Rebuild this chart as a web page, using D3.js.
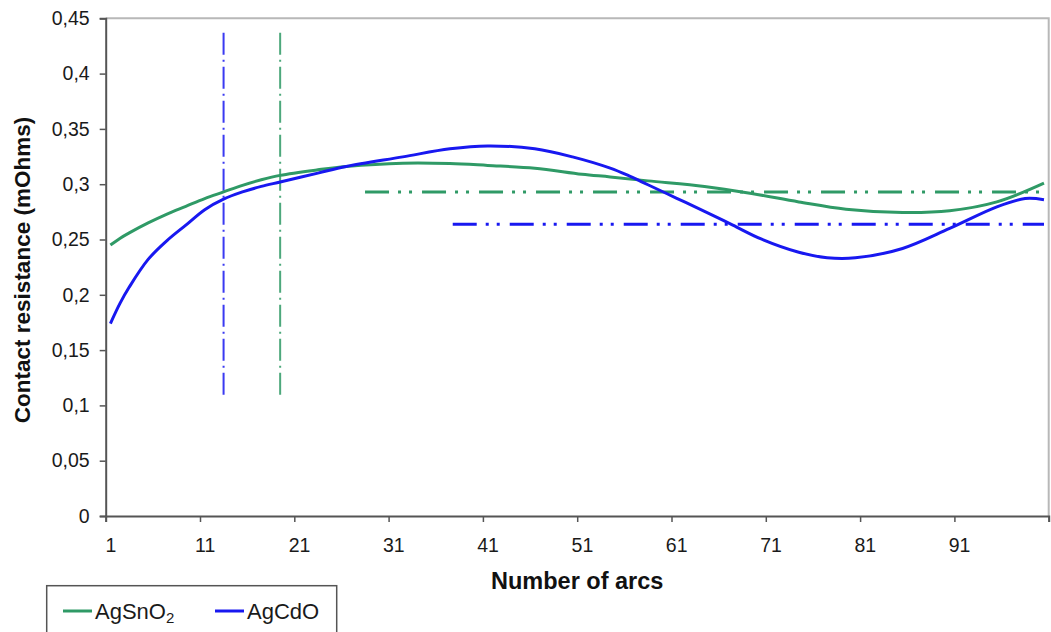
<!DOCTYPE html>
<html>
<head>
<meta charset="utf-8">
<script src="https://cdn.jsdelivr.net/npm/d3@7"></script>
<style>
  html, body { margin: 0; padding: 0; background: #ffffff; }
  svg { display: block; font-family: "Liberation Sans", Arial, sans-serif; }
</style>
</head>
<body>
<svg id="chart" width="1051" height="632"></svg>
<script>
// ---------- data ----------
const seriesNames = ["AgSnO2", "AgCdO"];

const agSnO2Cats   = [1, 2, 3, 5, 7, 9, 11, 13, 15, 17, 19, 23, 26, 32, 37, 41, 46, 51, 54, 58, 64, 69, 74, 79, 85, 90, 95, 100];
const agSnO2Values = [0.245, 0.251, 0.256, 0.265, 0.273, 0.280, 0.287, 0.293, 0.299, 0.304, 0.308, 0.313, 0.316, 0.319, 0.3187, 0.317, 0.3145, 0.309, 0.3066, 0.303, 0.298, 0.2916, 0.284, 0.2774, 0.2744, 0.276, 0.284, 0.301];

const agCdOCats    = [1, 2, 3, 5, 7, 9, 11, 13, 15, 17, 19, 23, 26, 32, 37, 41, 46, 50, 54, 56, 58, 61, 64, 67, 70, 74, 77, 80, 85, 90, 95, 98, 100];
const agCdOValues  = [0.174, 0.192, 0.207, 0.232, 0.249, 0.263, 0.277, 0.2865, 0.293, 0.298, 0.302, 0.310, 0.316, 0.3247, 0.332, 0.3346, 0.332, 0.3247, 0.3145, 0.3075, 0.2995, 0.2875, 0.2755, 0.263, 0.2505, 0.2385, 0.2335, 0.2334, 0.2419, 0.26, 0.2795, 0.287, 0.286];

// reference (dash-dot) lines: vertical at a category, horizontal at a value
const vLineCats    = [13, 19];          // AgCdO, AgSnO2
const vLineRange   = [0.109, 0.437];
const hLineValues  = [0.293, 0.2638];   // AgSnO2, AgCdO
const hLineFrom    = [28, 37.3];
const hLineTo      = 100;

const yTickValues  = [0, 0.05, 0.1, 0.15, 0.2, 0.25, 0.3, 0.35, 0.4, 0.45];
const yTickLabels  = ["0", "0,05", "0,1", "0,15", "0,2", "0,25", "0,3", "0,35", "0,4", "0,45"];
const xLabelCats   = [1, 11, 21, 31, 41, 51, 61, 71, 81, 91];
const xTickBounds  = [0.5, 10.5, 20.5, 30.5, 40.5, 50.5, 60.5, 70.5, 80.5, 90.5, 100.5];

const xTitle = "Number of arcs";
const yTitle = "Contact resistance (mOhms)";

// ---------- layout ----------
const colors = { green: "#2f9a66", blue: "#1818f0" };
const plot = { left: 105.7, right: 1048.7, top: 18.3, bottom: 516 };

const svg = d3.select("#chart");
const x = d3.scaleLinear().domain([0.5, 100.5]).range([plot.left, plot.right]);
const y = d3.scaleLinear().domain([0, 0.45]).range([plot.bottom, plot.top]);

// plot area border (top and right, light gray)
svg.append("path")
  .attr("d", `M${plot.left},${plot.top}H${plot.right}V${plot.bottom}`)
  .attr("fill", "none").attr("stroke", "#b8b8b8").attr("stroke-width", 2);

// y axis
const yAxis = svg.append("g")
  .attr("transform", `translate(${plot.left},0)`)
  .call(d3.axisLeft(y).tickValues(yTickValues)
        .tickFormat((d, i) => yTickLabels[i]).tickSize(6).tickPadding(10));
// x axis ticks (between categories)
const xAxis = svg.append("g")
  .attr("transform", `translate(0,${plot.bottom})`)
  .call(d3.axisBottom(x).tickValues(xTickBounds).tickFormat("").tickSize(6));
// x axis labels (centered in categories)
const xLab = svg.append("g")
  .attr("transform", `translate(0,${plot.bottom})`)
  .call(d3.axisBottom(x).tickValues(xLabelCats).tickFormat(d => String(d)).tickSize(0).tickPadding(22));
xLab.select(".domain").remove();

[yAxis, xAxis].forEach(g => {
  g.select(".domain").attr("stroke", "#555").attr("stroke-width", 2);
  g.selectAll(".tick line").attr("stroke", "#555").attr("stroke-width", 1.5);
});
[yAxis, xLab].forEach(g => {
  g.selectAll(".tick text").attr("fill", "#1a1a1a")
    .style("font-size", "19.5px").style("font-family", "'Liberation Sans', Arial, sans-serif");
});

// axis titles
svg.append("text")
  .attr("x", (plot.left + plot.right) / 2).attr("y", 589)
  .attr("text-anchor", "middle").attr("font-weight", "bold")
  .attr("font-size", 23.5).attr("fill", "#111").text(xTitle);
svg.append("text")
  .attr("transform", `translate(30,270) rotate(-90)`)
  .attr("text-anchor", "middle").attr("font-weight", "bold")
  .attr("font-size", 22.5).attr("fill", "#111").text(yTitle);

// reference lines
const vColors = [colors.blue, colors.green];
vLineCats.forEach((c, i) => {
  svg.append("line")
    .attr("x1", x(c)).attr("x2", x(c))
    .attr("y1", y(vLineRange[1])).attr("y2", y(vLineRange[0]))
    .attr("stroke", vColors[i]).attr("stroke-width", 2).attr("opacity", 0.85)
    .attr("stroke-dasharray", "22,5,2,5");
});
const hColors = [colors.green, colors.blue];
hLineValues.forEach((v, i) => {
  svg.append("line")
    .attr("x1", x(hLineFrom[i])).attr("x2", x(hLineTo))
    .attr("y1", y(v)).attr("y2", y(v))
    .attr("stroke", hColors[i]).attr("stroke-width", 3)
    .attr("stroke-dasharray", "24,9,3,8,3,10");
});

// curves
const line = d3.line().x(d => x(d[0])).y(d => y(d[1])).curve(d3.curveCatmullRom.alpha(0.5));
svg.append("path")
  .datum(agSnO2Cats.map((c, i) => [c, agSnO2Values[i]]))
  .attr("d", line).attr("fill", "none")
  .attr("stroke", colors.green).attr("stroke-width", 3);
svg.append("path")
  .datum(agCdOCats.map((c, i) => [c, agCdOValues[i]]))
  .attr("d", line).attr("fill", "none")
  .attr("stroke", colors.blue).attr("stroke-width", 3);

// legend
const lg = svg.append("g");
lg.append("rect").attr("x", 46.7).attr("y", 585.7).attr("width", 290).attr("height", 60)
  .attr("fill", "#fff").attr("stroke", "#555").attr("stroke-width", 1.5);
const legendItems = [
  { x: 63, color: colors.green, label: ["AgSnO", "2"] },
  { x: 215, color: colors.blue, label: ["AgCdO", null] }
];
legendItems.forEach(it => {
  lg.append("line").attr("x1", it.x).attr("x2", it.x + 29).attr("y1", 611).attr("y2", 611)
    .attr("stroke", it.color).attr("stroke-width", 3);
  const t = lg.append("text").attr("x", it.x + 32).attr("y", 619)
    .attr("font-size", 22).attr("fill", "#1a1a1a");
  t.append("tspan").text(it.label[0]);
  if (it.label[1]) t.append("tspan").attr("font-size", 15).attr("dy", 4).text(it.label[1]);
});
</script>
</body>
</html>
